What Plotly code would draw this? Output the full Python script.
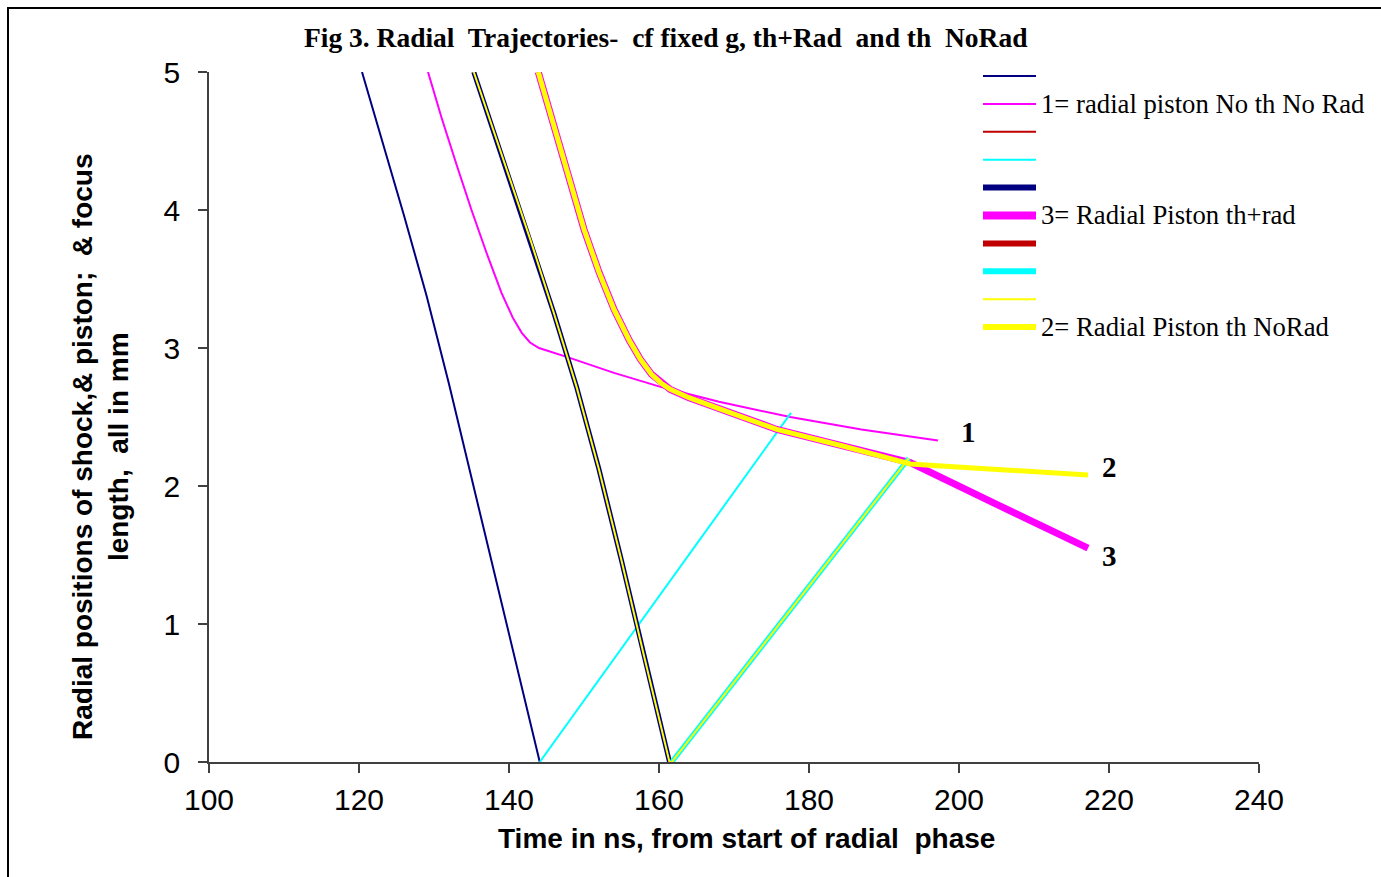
import plotly.graph_objects as go

# ---------------- data ----------------
# shock trajectory, case 1 (no thermodynamics, no radiation)
shock1_t = [120.4, 123.0, 126.0, 129.0, 132.0, 135.0, 138.0, 141.0, 144.1]
shock1_r = [5.00, 4.52, 3.96, 3.38, 2.74, 2.06, 1.38, 0.70, 0.00]

# radial piston, case 1 (No th No Rad)
piston1_t = [129.2, 131.0, 133.0, 135.0, 137.0, 139.0, 140.5, 141.7, 142.8,
             144.0, 148.0, 154.0, 160.1, 168.0, 177.5, 187.0, 197.2]
piston1_r = [5.00, 4.67, 4.33, 4.00, 3.69, 3.40, 3.22, 3.11, 3.04,
             3.00, 2.93, 2.82, 2.72, 2.61, 2.50, 2.41, 2.33]

# reflected shock, case 1
refl1_t = [144.1, 177.6]
refl1_r = [0.00, 2.53]

# shock trajectory, case 3 (th + rad)
shock3_t = [135.3, 139.0, 143.0, 146.0, 149.0, 152.0, 155.0, 158.0, 161.4]
shock3_r = [5.00, 4.40, 3.76, 3.25, 2.72, 2.12, 1.46, 0.77, 0.00]

# radial piston, case 3 (th + rad)
piston3_t = [143.9, 146.0, 148.0, 150.0, 152.0, 154.0, 156.0, 157.5, 159.0,
             160.3, 161.5, 164.0, 168.0, 175.7, 184.5, 193.5, 205.3, 217.2]
piston3_r = [5.00, 4.60, 4.22, 3.86, 3.55, 3.28, 3.06, 2.92, 2.81,
             2.745, 2.70, 2.64, 2.56, 2.41, 2.29, 2.17, 1.86, 1.55]

# reflected shock, case 3
refl3_t = [161.7, 193.3]
refl3_r = [0.00, 2.20]

# shock + reflected shock, case 2 (th NoRad)
shock2_t = [135.3, 139.0, 143.0, 146.0, 149.0, 152.0, 155.0, 158.0, 161.4, 161.7, 193.3]
shock2_r = [5.00, 4.40, 3.76, 3.25, 2.72, 2.12, 1.46, 0.77, 0.00, 0.00, 2.20]

# radial piston, case 2 (th NoRad)
piston2_t = [143.9, 146.0, 148.0, 150.0, 152.0, 154.0, 156.0, 157.5, 159.0,
             160.3, 161.5, 164.0, 168.0, 175.7, 184.5, 193.5, 205.1, 217.2]
piston2_r = [5.00, 4.60, 4.22, 3.86, 3.55, 3.28, 3.06, 2.92, 2.81,
             2.745, 2.70, 2.64, 2.56, 2.41, 2.29, 2.16, 2.12, 2.08]

legend_names = ["", "1= radial piston No th No Rad", "", "",
                "", "3= Radial Piston th+rad", "", "",
                "", "2= Radial Piston th NoRad"]

curve_labels = ["1", "2", "3"]
curve_label_t = [201.2, 220.1, 220.1]
curve_label_r = [2.39, 2.14, 1.49]

x_ticks = [100, 120, 140, 160, 180, 200, 220, 240]
y_ticks = [0, 1, 2, 3, 4, 5]

# ---------------- styles ----------------
NAVY, MAG, RED, CYAN, YEL = "#000080", "#FF00FF", "#C00000", "#00FFFF", "#FFFF00"
series = [
    (shock1_t, shock1_r, NAVY, 2),
    (piston1_t, piston1_r, MAG, 2),
    ([], [], RED, 2),
    (refl1_t, refl1_r, CYAN, 2),
    (shock3_t, shock3_r, NAVY, 5),
    (piston3_t, piston3_r, MAG, 7),
    ([], [], RED, 5),
    (refl3_t, refl3_r, CYAN, 5),
    (shock2_t, shock2_r, YEL, 2),
    (piston2_t, piston2_r, YEL, 5),
]

SERIF = "Liberation Serif, Times New Roman, serif"
SANS = "Liberation Sans, Arial, sans-serif"

fig = go.Figure()
for (t, r, c, w), nm in zip(series, legend_names):
    fig.add_trace(go.Scatter(x=t, y=r, mode="lines", name=nm or " ",
                             line=dict(color=c, width=w),
                             showlegend=False))

# plot-area pixel geometry
L, R, T, B = 209, 1259, 72, 762
W, H = 1381, 877


def px_x(p):
    return (p - L) / (R - L)


def px_y(p):
    return (B - p) / (B - T)


shapes = []
annotations = []

# manual legend (rows ~28 px apart)
for i, ((t, r, c, w), nm) in enumerate(zip(series, legend_names)):
    yy = px_y(76 + 27.9 * i)
    shapes.append(dict(type="line", xref="paper", yref="paper",
                       x0=px_x(983), x1=px_x(1036), y0=yy, y1=yy,
                       line=dict(color=c, width=w + (1 if w > 2 else 0))))
    if nm:
        annotations.append(dict(xref="paper", yref="paper", x=px_x(1039), y=yy,
                                text=nm, showarrow=False, xanchor="left",
                                yanchor="middle",
                                font=dict(family=SERIF, size=26.7, color="black")))

# curve number labels
for lab, t, r in zip(curve_labels, curve_label_t, curve_label_r):
    annotations.append(dict(x=t, y=r, text="<b>%s</b>" % lab, showarrow=False,
                            xanchor="center", yanchor="middle",
                            font=dict(family=SERIF, size=29, color="black")))

# title
annotations.append(dict(xref="paper", yref="paper", x=px_x(666), y=px_y(38),
                        text="<b>Fig 3. Radial\u00a0 Trajectories-\u00a0 cf fixed g, th+Rad\u00a0 and th\u00a0 NoRad</b>",
                        showarrow=False, xanchor="center", yanchor="middle",
                        font=dict(family=SERIF, size=27.5, color="black")))
# x-axis title
annotations.append(dict(xref="paper", yref="paper", x=px_x(746), y=px_y(838),
                        text="<b>Time in ns, from start of radial\u00a0 phase</b>",
                        showarrow=False, xanchor="center", yanchor="middle",
                        font=dict(family=SANS, size=28, color="black")))
# y-axis title (two lines)
annotations.append(dict(xref="paper", yref="paper", x=px_x(100), y=px_y(447),
                        text="<b>Radial positions of shock,& piston;\u00a0 & focus<br>length,\u00a0 all in mm</b>",
                        showarrow=False, xanchor="center", yanchor="middle",
                        textangle=-90,
                        font=dict(family=SANS, size=28, color="black")))

# outer frame of the figure
shapes.append(dict(type="rect", xref="paper", yref="paper",
                   x0=px_x(8), x1=px_x(1395), y0=px_y(8), y1=px_y(890),
                   line=dict(color="black", width=2), layer="below"))

axis_common = dict(showgrid=False, zeroline=False, showline=True,
                   linecolor="#404040", linewidth=1.5, ticks="outside",
                   ticklen=9, tickwidth=1.5, tickcolor="#404040",
                   tickfont=dict(family=SANS, size=30, color="black"))

fig.update_layout(
    width=W, height=H,
    margin=dict(l=L, r=W - R, t=T, b=H - B, pad=0),
    paper_bgcolor="white", plot_bgcolor="white",
    showlegend=False,
    xaxis=dict(range=[100, 240], tickvals=x_ticks, ticklabelstandoff=1,
               **axis_common),
    yaxis=dict(range=[0, 5], tickvals=y_ticks, ticklabelstandoff=12,
               **axis_common),
    shapes=shapes,
    annotations=annotations,
)

fig.write_html("out.html")
